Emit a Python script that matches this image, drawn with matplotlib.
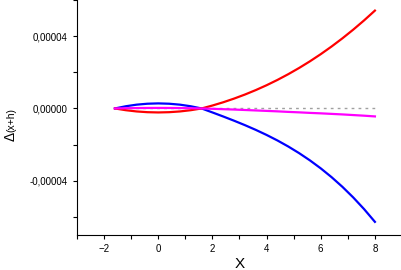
import numpy as np
import matplotlib
matplotlib.use('Agg')
import matplotlib.pyplot as plt
from matplotlib.ticker import MultipleLocator, FuncFormatter

# data (y in units of 1e-5)
x = [-1.6, -1.2, -0.8, -0.4, 0.0, 0.4, 0.8, 1.2, 1.6,
     2.0, 2.4, 2.8, 3.2, 3.6, 4.0, 4.4, 4.8, 5.2, 5.6,
     6.0, 6.4, 6.8, 7.2, 7.6, 8.0]
red = [0, -0.096, -0.165, -0.206, -0.22, -0.206, -0.165, -0.096, 0,
       0.162, 0.343, 0.546, 0.770, 1.016, 1.285, 1.578, 1.896, 2.239, 2.608,
       3.004, 3.428, 3.880, 4.361, 4.872, 5.414]
blue = [0, 0.122, 0.21, 0.262, 0.28, 0.262, 0.21, 0.122, 0,
        -0.22, -0.445, -0.678, -0.923, -1.184, -1.465, -1.770, -2.104, -2.470, -2.872,
        -3.314, -3.801, -4.336, -4.924, -5.568, -6.273]
magenta = [0, 0.013, 0.022, 0.028, 0.03, 0.028, 0.022, 0.013, 0,
           -0.02, -0.04, -0.06, -0.085, -0.11, -0.135, -0.16, -0.19, -0.215, -0.245,
           -0.27, -0.30, -0.33, -0.365, -0.40, -0.44]

scale = 1e-5
plt.rcParams['font.family'] = ['Liberation Sans', 'DejaVu Sans']

fig = plt.figure(figsize=(4.02, 2.70), dpi=100)
ax = fig.add_axes([77/402, 1 - 235/270, 1 - 77/402, 235/270])

# reference line at zero
ax.plot([x[0], x[-1]], [0, 0], color='#a0a0a0', lw=1, ls=(0, (2, 3)))
ax.plot(x, np.array(blue) * scale, color='#0000ff', lw=1.6)
ax.plot(x, np.array(red) * scale, color='#ff0000', lw=1.6)
ax.plot(x, np.array(magenta) * scale, color='#ff00ff', lw=1.6)

ax.set_xlim(-3, 9)
ax.set_ylim(-7e-5, 6e-5)
ax.xaxis.set_major_locator(MultipleLocator(2))
ax.xaxis.set_minor_locator(MultipleLocator(1))
ax.yaxis.set_major_locator(MultipleLocator(4e-5))
ax.yaxis.set_minor_locator(MultipleLocator(2e-5))

def fmt(v, pos):
    s = '%.5f' % v
    if abs(v) < 1e-12:
        s = '0.00000'
    return s.replace('.', ',')

ax.yaxis.set_major_formatter(FuncFormatter(fmt))
ax.tick_params(which='both', direction='out', length=3, width=0.8, labelsize=7)
ax.spines['top'].set_visible(False)
ax.spines['right'].set_visible(False)

ax.set_xlabel('X', fontsize=11, labelpad=2)
# y label: big delta with smaller (x+h)
fig.text(11/402, 1 - 136/270, 'Δ', rotation=90, fontsize=10, ha='center', va='center')
fig.text(11/402, 1 - 120/270, '(x+h)', rotation=90, fontsize=7.5, ha='center', va='center')

fig.savefig('out.png', dpi=100)
